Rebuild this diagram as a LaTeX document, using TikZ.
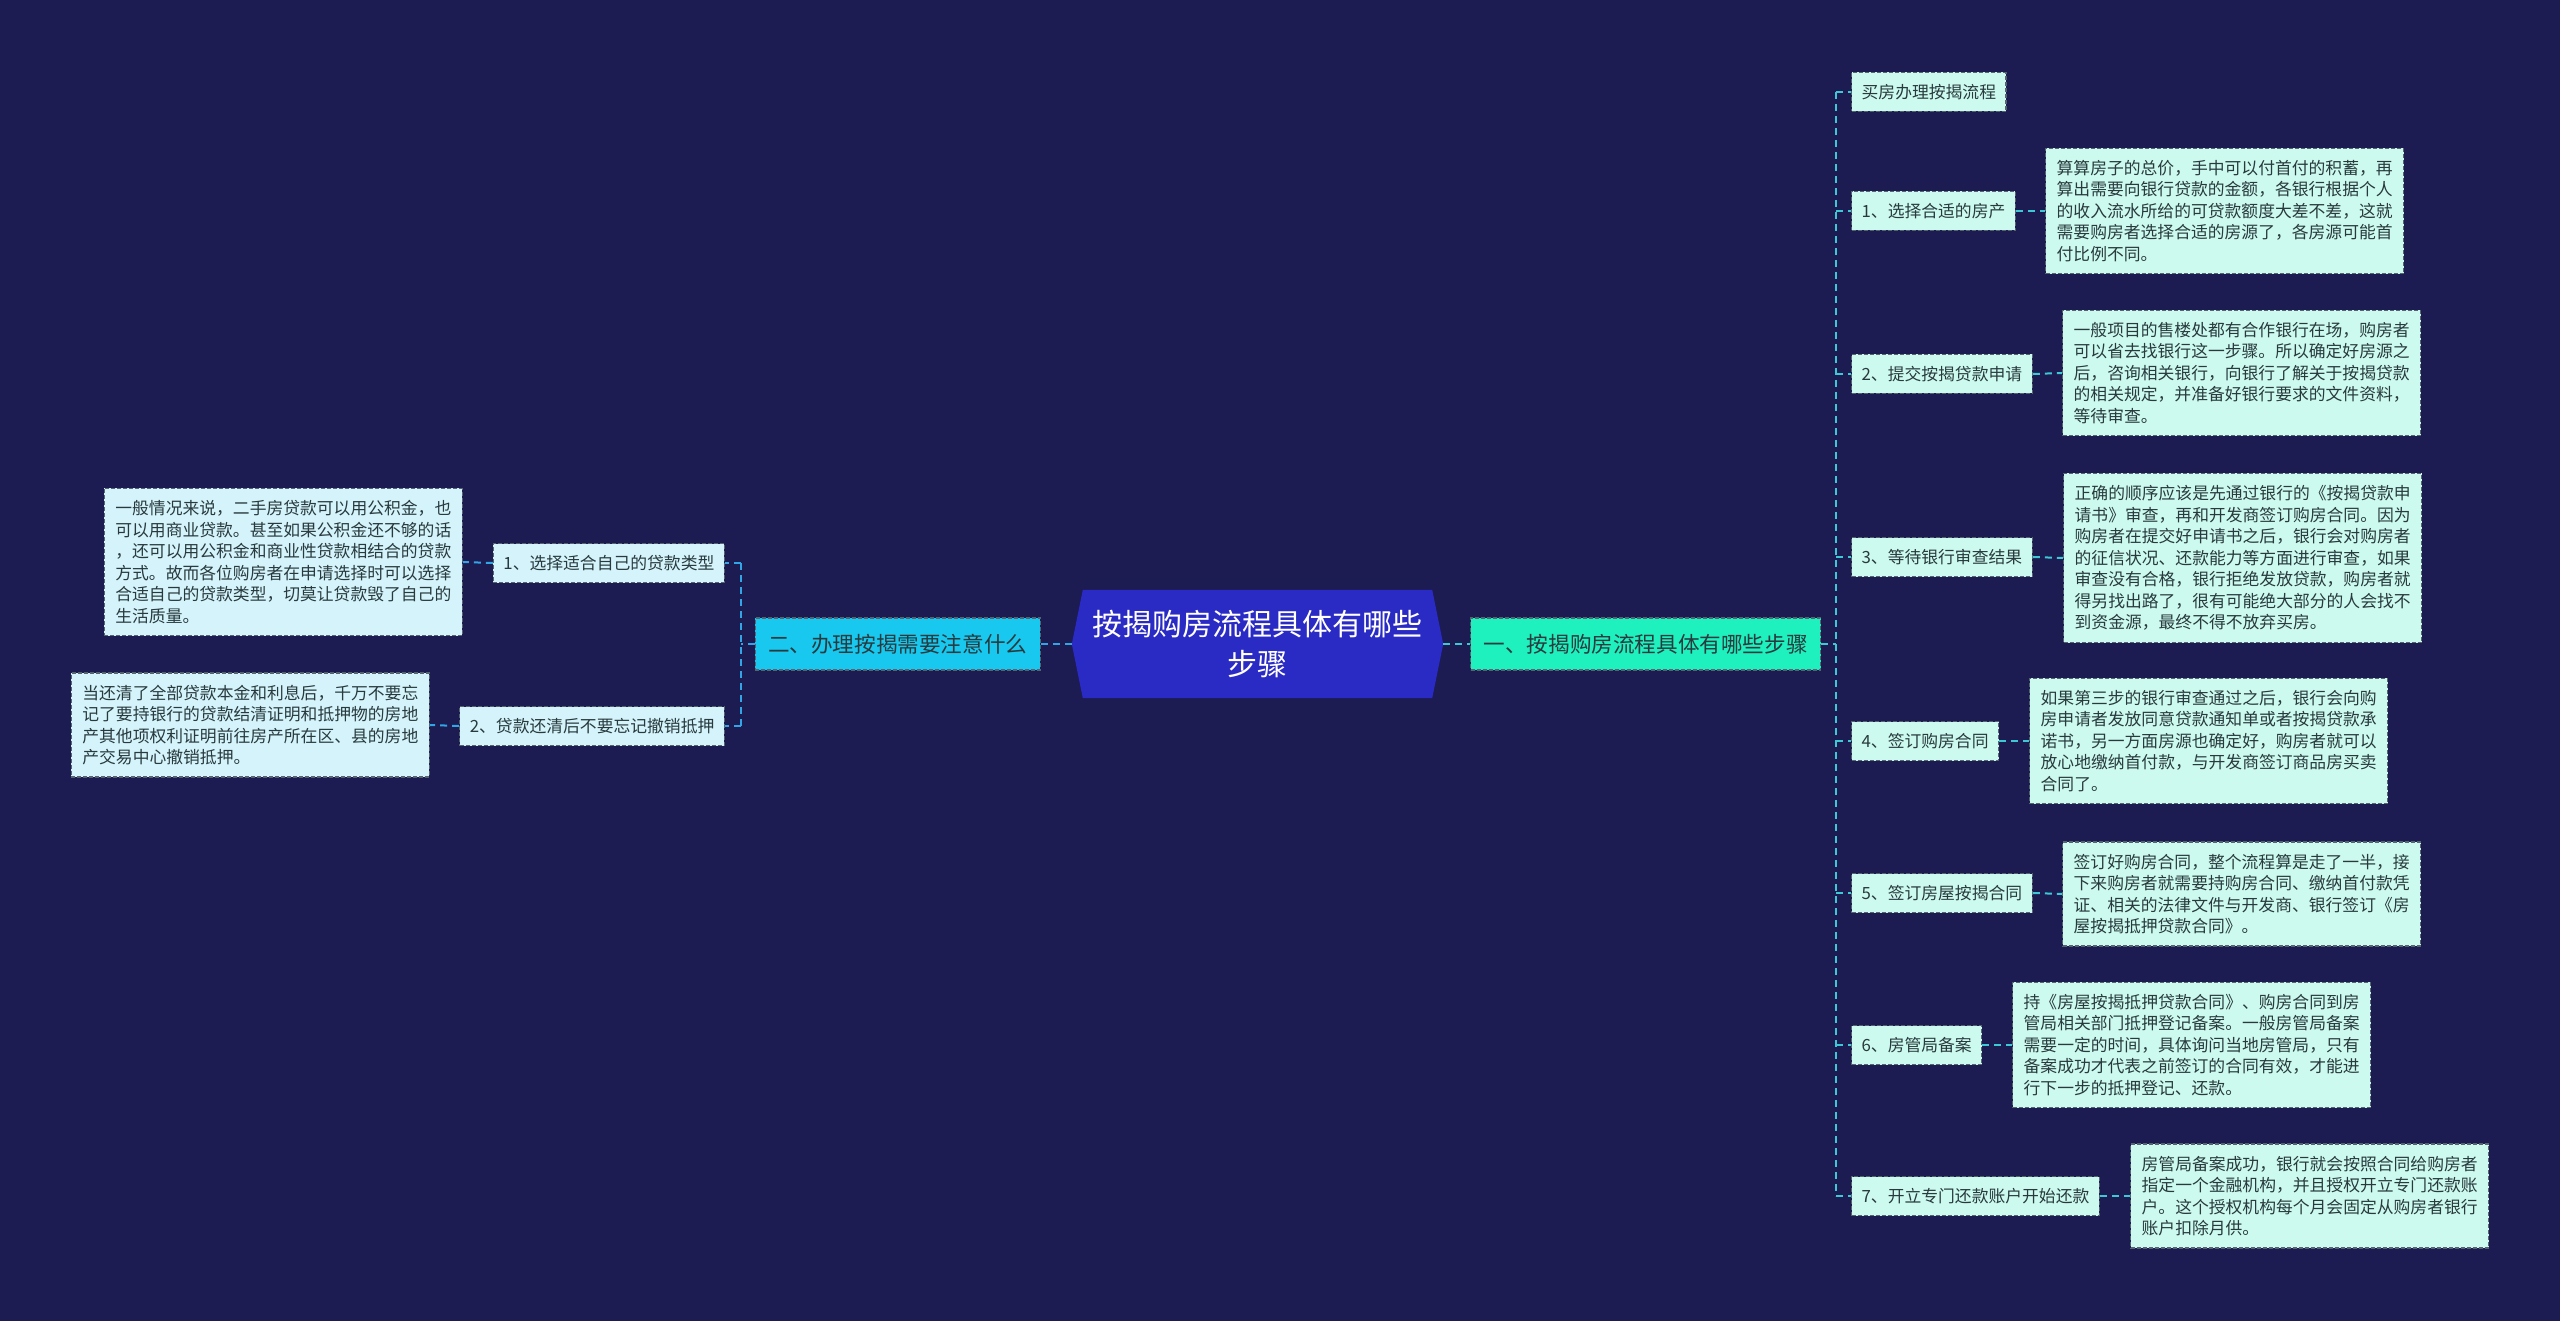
\documentclass[tikz,border=0pt]{standalone}
\usepackage{fontspec}
\setmainfont{Noto Sans CJK SC}
\usetikzlibrary{calc}
\definecolor{bg}{RGB}{28,27,82}
\definecolor{hexfill}{RGB}{42,42,196}
\definecolor{rmfill}{RGB}{30,240,190}
\definecolor{lmfill}{RGB}{24,200,238}
\definecolor{mint}{RGB}{205,250,238}
\definecolor{lcyan}{RGB}{212,243,250}
\definecolor{bordc}{RGB}{85,100,110}
\definecolor{txt}{RGB}{40,58,62}
\definecolor{rconn}{RGB}{60,200,212}
\definecolor{lconn}{RGB}{50,165,230}
\tikzset{
  boxbase/.style={draw=bordc, dash pattern=on 4pt off 2pt, line width=1.3pt, text=txt},
  mainbox/.style={boxbase, font=\fontsize{21.6}{26}\selectfont, inner xsep=13pt, inner ysep=0pt, minimum height=52pt},
  subbox/.style={boxbase, font=\fontsize{16.8}{20}\selectfont, inner xsep=10pt, inner ysep=0pt, minimum height=39pt},
  detailbox/.style={boxbase, font=\fontsize{16.8}{21.5}\selectfont, align=left, inner xsep=11pt, inner ysep=12pt},
  rconnline/.style={draw=rconn, line width=2pt, dash pattern=on 7pt off 5pt},
  lconnline/.style={draw=lconn, line width=2pt, dash pattern=on 7pt off 5pt}
}
\begin{document}
\begin{tikzpicture}[x=1pt,y=-1pt]
\fill[bg] (0,0) rectangle (2560,1321);
\useasboundingbox (0,0) rectangle (2560,1321);

% central hexagon
\node[minimum width=371pt, minimum height=108pt, inner sep=0pt] (c) at (1257.5,644) {};
\fill[hexfill] ($(c.north west)+(11,0)$) -- ($(c.north east)+(-11,0)$) -- (c.east) -- ($(c.south east)+(-11,0)$) -- ($(c.south west)+(11,0)$) -- (c.west) -- cycle;
\node[text=white, align=center, font=\fontsize{30}{40}\selectfont] (ctext) at (c.center) {按揭购房流程具体有哪些\\步骤};

% main branches
\node[mainbox, fill=rmfill, anchor=west] (rm) at (1470,644) {一、按揭购房流程具体有哪些步骤};
\node[mainbox, fill=lmfill, anchor=east] (lm) at (1041,644) {二、办理按揭需要注意什么};

% right sub nodes
\node[subbox, fill=mint, anchor=west] (s0) at (1851,92) {买房办理按揭流程};
\node[subbox, fill=mint, anchor=west] (s1) at (1851,211) {1、选择合适的房产};
\node[subbox, fill=mint, anchor=west] (s2) at (1851,374) {2、提交按揭贷款申请};
\node[subbox, fill=mint, anchor=west] (s3) at (1851,557) {3、等待银行审查结果};
\node[subbox, fill=mint, anchor=west] (s4) at (1851,741) {4、签订购房合同};
\node[subbox, fill=mint, anchor=west] (s5) at (1851,893) {5、签订房屋按揭合同};
\node[subbox, fill=mint, anchor=west] (s6) at (1851,1045) {6、房管局备案};
\node[subbox, fill=mint, anchor=west] (s7) at (1851,1196) {7、开立专门还款账户开始还款};

% right detail nodes
\node[detailbox, fill=mint, anchor=west] (d1) at (2045,211) {算算房子的总价，手中可以付首付的积蓄，再\\算出需要向银行贷款的金额，各银行根据个人\\的收入流水所给的可贷款额度大差不差，这就\\需要购房者选择合适的房源了，各房源可能首\\付比例不同。};
\node[detailbox, fill=mint, anchor=west] (d2) at (2062,373) {一般项目的售楼处都有合作银行在场，购房者\\可以省去找银行这一步骤。所以确定好房源之\\后，咨询相关银行，向银行了解关于按揭贷款\\的相关规定，并准备好银行要求的文件资料，\\等待审查。};
\node[detailbox, fill=mint, anchor=west] (d3) at (2063,558) {正确的顺序应该是先通过银行的《按揭贷款申\\请书》审查，再和开发商签订购房合同。因为\\购房者在提交好申请书之后，银行会对购房者\\的征信状况、还款能力等方面进行审查，如果\\审查没有合格，银行拒绝发放贷款，购房者就\\得另找出路了，很有可能绝大部分的人会找不\\到资金源，最终不得不放弃买房。};
\node[detailbox, fill=mint, anchor=west] (d4) at (2029,741) {如果第三步的银行审查通过之后，银行会向购\\房申请者发放同意贷款通知单或者按揭贷款承\\诺书，另一方面房源也确定好，购房者就可以\\放心地缴纳首付款，与开发商签订商品房买卖\\合同了。};
\node[detailbox, fill=mint, anchor=west] (d5) at (2062,894) {签订好购房合同，整个流程算是走了一半，接\\下来购房者就需要持购房合同、缴纳首付款凭\\证、相关的法律文件与开发商、银行签订《房\\屋按揭抵押贷款合同》。};
\node[detailbox, fill=mint, anchor=west] (d6) at (2012,1045) {持《房屋按揭抵押贷款合同》、购房合同到房\\管局相关部门抵押登记备案。一般房管局备案\\需要一定的时间，具体询问当地房管局，只有\\备案成功才代表之前签订的合同有效，才能进\\行下一步的抵押登记、还款。};
\node[detailbox, fill=mint, anchor=west] (d7) at (2130,1196) {房管局备案成功，银行就会按照合同给购房者\\指定一个金融机构，并且授权开立专门还款账\\户。这个授权机构每个月会固定从购房者银行\\账户扣除月供。};

% left sub nodes
\node[subbox, fill=lcyan, anchor=east] (ls1) at (725,563) {1、选择适合自己的贷款类型};
\node[subbox, fill=lcyan, anchor=east] (ls2) at (725,726) {2、贷款还清后不要忘记撤销抵押};

% left detail nodes
\node[detailbox, fill=lcyan, anchor=east] (ld1) at (463,562) {一般情况来说，二手房贷款可以用公积金，也\\可以用商业贷款。甚至如果公积金还不够的话\\，还可以用公积金和商业性贷款相结合的贷款\\方式。故而各位购房者在申请选择时可以选择\\合适自己的贷款类型，切莫让贷款毁了自己的\\生活质量。};
\node[detailbox, fill=lcyan, anchor=east] (ld2) at (430,725) {当还清了全部贷款本金和利息后，千万不要忘\\记了要持银行的贷款结清证明和抵押物的房地\\产其他项权利证明前往房产所在区、县的房地\\产交易中心撤销抵押。};

% connectors: centre to main branches
\draw[lconnline] (c.west) -- (lm.east);
\draw[rconnline] (c.east) -- (rm.west);

% right bus
\coordinate (rbus) at (1836,644);
\draw[rconnline] (rm.east) -- (rbus);
\draw[rconnline] (rbus |- s0.west) -- (rbus |- s7.west);
\foreach \k in {0,...,7}{
  \draw[rconnline] (rbus |- s\k.west) -- (s\k.west);
}
\foreach \k in {1,...,7}{
  \draw[rconnline] (s\k.east) -- (d\k.west);
}

% left bus
\coordinate (lbus) at (741,644);
\draw[lconnline] (lm.west) -- (lbus);
\draw[lconnline] (lbus |- ls1.east) -- (lbus |- ls2.east);
\draw[lconnline] (lbus |- ls1.east) -- (ls1.east);
\draw[lconnline] (lbus |- ls2.east) -- (ls2.east);
\draw[lconnline] (ls1.west) -- (ld1.east);
\draw[lconnline] (ls2.west) -- (ld2.east);
\end{tikzpicture}
\end{document}
